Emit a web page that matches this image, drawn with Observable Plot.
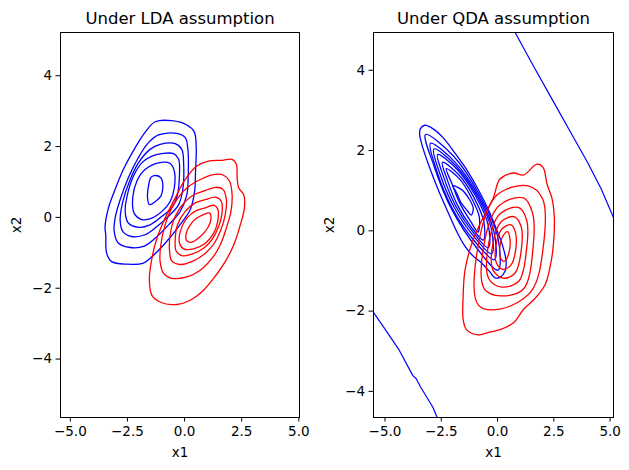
<!DOCTYPE html>
<html>
<head>
<meta charset="utf-8">
<script src="https://cdn.jsdelivr.net/npm/d3@7"></script>
<script src="https://cdn.jsdelivr.net/npm/@observablehq/plot@0.6"></script>
<style>
  body { margin: 0; background: #fff; }
  #fig { position: relative; width: 629px; height: 470px; }
  #fig svg { position: absolute; top: 0; overflow: visible; }
</style>
</head>
<body>
<div id="fig"></div>
<script>
// Axis ticks shared by both panels
const xTicks = [-5, -2.5, 0, 2.5, 5];
const yTicks = [-4, -2, 0, 2, 4];

// KDE contour lines, class 0 (blue) and class 1 (red), LDA panel — each contour is a closed ring of [x1, x2]
const ldaBlue = [
  [[-1.29,2.70],[-0.56,2.73],[0.10,2.61],[0.42,2.42],[0.51,1.97],[0.48,1.31],[0.44,0.74],[0.25,0.22],[-0.26,-0.26],[-0.85,-0.73],[-1.43,-1.11],[-1.80,-1.29],[-2.53,-1.32],[-3.19,-1.25],[-3.41,-1.01],[-3.45,-0.49],[-3.48,-0.26],[-3.33,0.27],[-3.04,0.79],[-2.68,1.35],[-2.16,1.97],[-1.73,2.40]],
  [[-1.14,2.33],[-0.34,2.37],[0.03,2.25],[0.15,1.88],[0.16,1.21],[0.10,0.64],[-0.19,0.17],[-0.70,-0.21],[-1.29,-0.59],[-1.80,-0.82],[-2.38,-0.85],[-2.89,-0.73],[-3.08,-0.40],[-3.04,-0.02],[-2.82,0.50],[-2.46,1.12],[-2.02,1.69],[-1.58,2.11]],
  [[-1.07,2.06],[-0.41,2.08],[-0.12,1.92],[-0.04,1.50],[-0.07,0.83],[-0.26,0.36],[-0.70,0.03],[-1.21,-0.26],[-1.73,-0.49],[-2.31,-0.54],[-2.70,-0.40],[-2.82,-0.07],[-2.70,0.45],[-2.41,1.02],[-2.02,1.54],[-1.51,1.92]],
  [[-0.99,1.80],[-0.48,1.80],[-0.26,1.64],[-0.23,1.12],[-0.31,0.64],[-0.56,0.27],[-0.99,0.03],[-1.51,-0.21],[-2.02,-0.28],[-2.46,-0.16],[-2.60,0.17],[-2.50,0.64],[-2.24,1.16],[-1.87,1.54],[-1.43,1.73]],
  [[-1.14,1.54],[-0.63,1.52],[-0.45,1.31],[-0.45,0.83],[-0.63,0.45],[-0.99,0.17],[-1.43,-0.02],[-1.87,-0.06],[-2.21,0.12],[-2.27,0.55],[-2.09,1.02],[-1.73,1.35]],
  [[-1.33,1.18],[-1.04,1.12],[-0.95,0.88],[-1.04,0.60],[-1.29,0.44],[-1.54,0.36],[-1.62,0.55],[-1.58,0.88],[-1.48,1.12]]
];
const ldaRed = [
  [[0.54,1.45],[1.05,1.59],[1.64,1.61],[2.08,1.64],[2.27,1.50],[2.30,1.12],[2.37,0.83],[2.59,0.64],[2.62,0.27],[2.44,-0.21],[2.15,-0.78],[1.78,-1.25],[1.27,-1.72],[0.76,-2.10],[0.25,-2.34],[-0.34,-2.46],[-0.99,-2.41],[-1.43,-2.20],[-1.54,-1.72],[-1.43,-1.16],[-1.21,-0.59],[-0.85,-0.02],[-0.41,0.55],[0.03,1.07]],
  [[0.69,1.07],[1.27,1.21],[1.71,1.19],[1.97,1.02],[2.08,0.64],[2.03,0.17],[1.83,-0.30],[1.56,-0.78],[1.20,-1.16],[0.69,-1.49],[0.10,-1.68],[-0.56,-1.72],[-0.92,-1.58],[-1.07,-1.25],[-1.04,-0.78],[-0.85,-0.21],[-0.48,0.36],[0.10,0.83]],
  [[0.83,0.74],[1.35,0.85],[1.68,0.79],[1.83,0.50],[1.78,0.08],[1.59,-0.35],[1.30,-0.73],[0.91,-1.01],[0.39,-1.23],[-0.19,-1.33],[-0.56,-1.23],[-0.66,-0.92],[-0.63,-0.49],[-0.41,0.03],[0.03,0.45],[0.47,0.66]],
  [[0.91,0.50],[1.35,0.57],[1.61,0.45],[1.64,0.12],[1.49,-0.26],[1.20,-0.63],[0.83,-0.87],[0.32,-1.04],[-0.12,-1.08],[-0.37,-0.95],[-0.41,-0.63],[-0.31,-0.21],[0.03,0.17],[0.47,0.41]],
  [[0.91,0.27],[1.30,0.34],[1.46,0.22],[1.45,-0.11],[1.27,-0.45],[0.91,-0.73],[0.39,-0.89],[-0.04,-0.89],[-0.22,-0.73],[-0.19,-0.40],[0.10,-0.02],[0.51,0.19]],
  [[0.83,0.08],[1.10,0.12],[1.15,-0.07],[1.01,-0.30],[0.69,-0.54],[0.32,-0.70],[0.10,-0.66],[0.07,-0.45],[0.25,-0.21],[0.54,-0.02]]
];

// KDE contour lines for the QDA panel
const qdaBlue = [
  [[-3.43,2.54],[-3.24,2.63],[-2.86,2.54],[-2.42,2.32],[-1.90,1.94],[-1.38,1.53],[-0.86,1.03],[-0.41,0.53],[-0.04,0.03],[0.23,-0.38],[0.38,-0.76],[0.33,-1.01],[0.11,-1.16],[-0.11,-1.17],[-0.36,-1.01],[-0.71,-0.80],[-1.08,-0.63],[-1.45,-0.38],[-1.82,-0.01],[-2.19,0.45],[-2.64,1.03],[-3.04,1.61],[-3.34,2.11],[-3.46,2.40]],
  [[-3.20,2.40],[-1.94,1.85],[-0.79,0.88],[0.02,-0.18],[0.02,-0.98],[-0.91,-0.44],[-2.04,0.54],[-2.82,1.61]],
  [[-2.98,2.18],[-1.89,1.71],[-0.87,0.89],[-0.16,-0.02],[-0.14,-0.72],[-1.02,-0.26],[-2.02,0.57],[-2.70,1.49]],
  [[-2.83,2.04],[-1.85,1.62],[-0.92,0.88],[-0.28,0.06],[-0.26,-0.57],[-1.04,-0.15],[-1.94,0.60],[-2.56,1.42]],
  [[-2.66,1.90],[-1.78,1.52],[-0.97,0.86],[-0.41,0.13],[-0.41,-0.42],[-1.07,-0.05],[-1.86,0.62],[-2.40,1.35]],
  [[-2.45,1.71],[-1.71,1.39],[-1.06,0.84],[-0.61,0.23],[-0.63,-0.23],[-1.15,0.08],[-1.78,0.64],[-2.22,1.25]],
  [[-2.28,1.55],[-1.67,1.28],[-1.17,0.83],[-0.81,0.34],[-0.87,-0.03],[-1.19,0.23],[-1.68,0.69],[-2.03,1.18]],
  [[-1.98,1.12],[-1.58,1.02],[-1.28,0.81],[-1.08,0.57],[-1.17,0.39],[-1.34,0.50],[-1.63,0.71],[-1.82,0.95]]
];
const qdaRed = [
  [[0.11,1.29],[0.71,1.44],[1.15,1.39],[1.75,1.66],[2.02,1.58],[2.20,1.16],[2.42,0.80],[2.52,0.35],[2.50,-0.20],[2.40,-0.70],[2.12,-1.33],[1.67,-1.68],[1.15,-1.96],[0.71,-2.29],[0.11,-2.46],[-0.33,-2.52],[-0.86,-2.59],[-1.38,-2.46],[-1.53,-2.20],[-1.53,-1.66],[-1.45,-1.00],[-1.15,-0.33],[-0.71,0.25],[-0.20,0.80]],
  [[1.35,1.12],[2.00,0.80],[2.03,-0.40],[1.50,-1.50],[0.10,-1.95],[-0.85,-1.85],[-0.87,-0.40],[-0.05,0.88]],
  [[1.15,0.82],[1.55,0.45],[1.58,-0.40],[1.15,-1.45],[0.15,-1.62],[-0.58,-1.45],[-0.62,-0.40],[0.05,0.62]],
  [[0.95,0.58],[1.30,0.25],[1.29,-0.45],[0.95,-1.25],[0.20,-1.40],[-0.38,-1.20],[-0.42,-0.40],[0.10,0.42]],
  [[0.75,0.35],[1.05,0.10],[1.06,-0.45],[0.78,-1.05],[0.25,-1.18],[-0.20,-0.98],[-0.23,-0.40],[0.15,0.22]],
  [[0.60,0.15],[0.80,-0.05],[0.81,-0.45],[0.60,-0.85],[0.25,-0.96],[-0.05,-0.80],[-0.08,-0.40],[0.20,0.05]],
  [[0.45,-0.02],[0.55,-0.20],[0.54,-0.45],[0.42,-0.68],[0.28,-0.76],[0.12,-0.65],[0.10,-0.40],[0.25,-0.12]]
];

// QDA decision boundary branches crossing the plotting window
const qdaBoundary = [
  [[0.78,4.94],[1.60,4.10],[2.40,3.30],[3.20,2.50],[4.00,1.70],[4.60,1.05],[5.15,0.33]],
  [[-5.55,-2.00],[-4.96,-2.48],[-4.36,-2.98],[-3.77,-3.60],[-3.62,-3.68],[-3.40,-3.91],[-2.88,-4.39],[-2.68,-4.65]]
];

const rows = (rings, tag) =>
  rings.flatMap((ring, i) => ring.map(([x, y]) => ({x, y, key: tag + i})));

const fig = document.getElementById("fig");

function panel({title, xDomain, yDomain, blue, red, boundary, left, width, marginLeft, marginRight}) {
  const marks = [
    Plot.line(rows(blue, "b"), {x: "x", y: "y", z: "key", stroke: "#0000ff", strokeWidth: 1.3, curve: "catmull-rom-closed", clip: true}),
    Plot.line(rows(red, "r"), {x: "x", y: "y", z: "key", stroke: "#ff0000", strokeWidth: 1.3, curve: "catmull-rom-closed", clip: true})
  ];
  if (boundary) {
    marks.push(Plot.line(rows(boundary, "d"), {x: "x", y: "y", z: "key", stroke: "#0000ff", strokeWidth: 1.2, clip: true}));
  }
  marks.push(
    Plot.frame({stroke: "black", strokeWidth: 1}),
    Plot.text([title], {frameAnchor: "top", lineAnchor: "middle", dy: -14, text: d => d, fontSize: 16.5}),
    Plot.text(["x1"], {frameAnchor: "bottom", lineAnchor: "middle", dy: 35, text: d => d, fontSize: 13.5}),
    Plot.text(["x2"], {frameAnchor: "left", textAnchor: "middle", lineAnchor: "middle", dx: -44, rotate: -90, text: d => d, fontSize: 13.5})
  );
  const svg = Plot.plot({
    width, height: 470,
    marginLeft, marginRight, marginTop: 32, marginBottom: 53,
    style: {fontFamily: "DejaVu Sans, sans-serif", fontSize: "13.5px", color: "black", background: "transparent"},
    x: {domain: xDomain, ticks: xTicks, tickFormat: d3.format(".1f"), tickSize: 4.5, tickPadding: 4, label: null},
    y: {domain: yDomain, ticks: yTicks, tickFormat: d3.format("d"), tickSize: 4.5, tickPadding: 4, label: null},
    marks
  });
  svg.style.left = left + "px";
  fig.appendChild(svg);
}

panel({
  title: "Under LDA assumption",
  xDomain: [-5.43, 5.03], yDomain: [-5.65, 5.22],
  blue: ldaBlue, red: ldaRed,
  left: 0, width: 305, marginLeft: 60, marginRight: 6
});
panel({
  title: "Under QDA assumption",
  xDomain: [-5.51, 5.15], yDomain: [-4.65, 4.94],
  blue: qdaBlue, red: qdaRed, boundary: qdaBoundary,
  left: 310, width: 319, marginLeft: 63, marginRight: 16
});
</script>
</body>
</html>
